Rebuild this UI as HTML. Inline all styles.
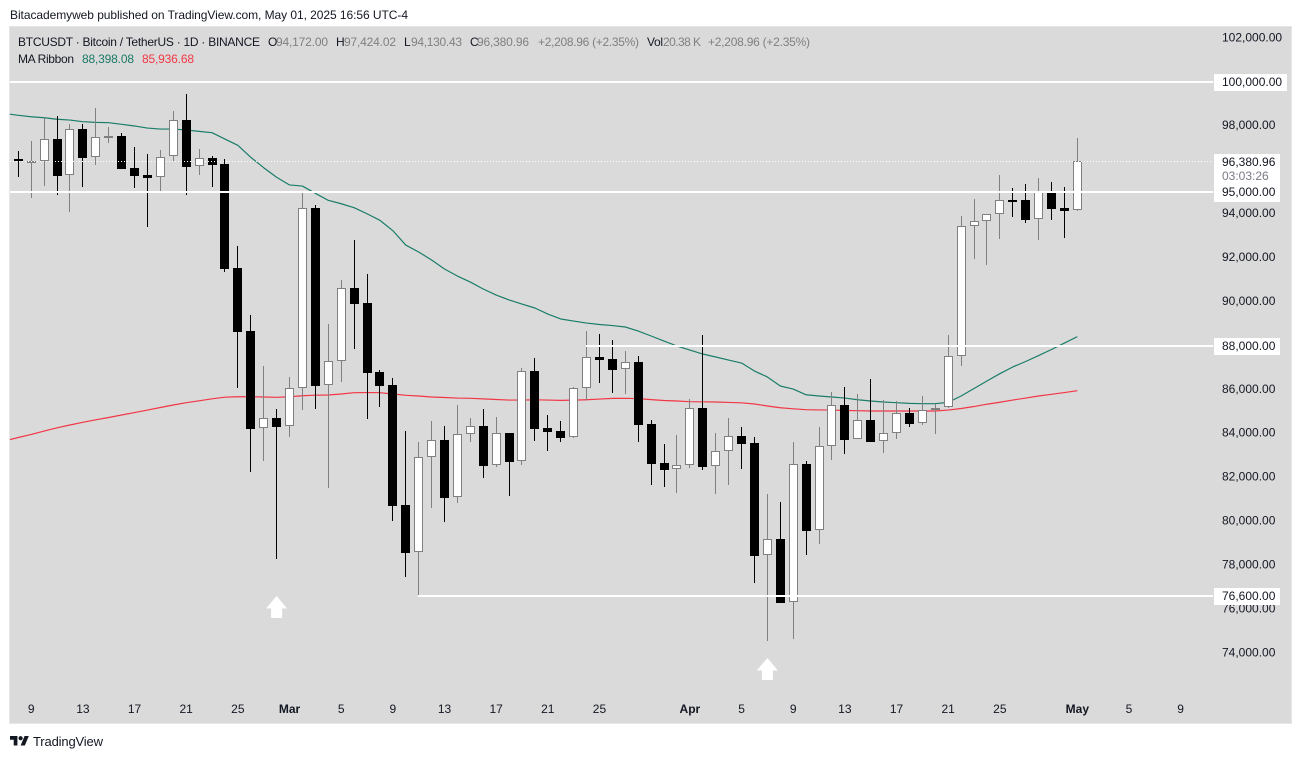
<!DOCTYPE html>
<html lang="en">
<head>
<meta charset="utf-8">
<title>BTCUSDT chart</title>
<style>
html,body{margin:0;padding:0;background:#fff;width:1301px;height:759px;overflow:hidden}
svg{display:block;font-family:"Liberation Sans",sans-serif;font-size:12px}
</style>
</head>
<body>
<svg id="chart" xmlns="http://www.w3.org/2000/svg" width="1301" height="759" viewBox="0 0 1301 759">
  <defs><clipPath id="plot-clip"><rect x="10" y="27" width="1203" height="696"/></clipPath></defs>
  <text x="10" y="19" fill="#131722" textLength="398">Bitacademyweb published on TradingView.com, May 01, 2025 16:56 UTC-4</text>
  <rect x="9.5" y="26.5" width="1282" height="697" fill="#dadada" stroke="#e6e6e6"/>
  <g id="ma-layer" clip-path="url(#plot-clip)"></g>
  <g id="candle-layer" clip-path="url(#plot-clip)"></g>
  <g id="line-layer"></g>
  <g id="ytick-layer"></g>
  <g id="xtick-layer"></g>
  <g id="tag-layer"></g>
  <g>
    <text x="18" y="46" fill="#131722" textLength="242">BTCUSDT · Bitcoin / TetherUS · 1D · BINANCE</text>
    <text x="268" y="46" fill="#131722">O</text>
    <text x="276" y="46" fill="#808080" textLength="52">94,172.00</text>
    <text x="336" y="46" fill="#131722">H</text>
    <text x="344" y="46" fill="#808080" textLength="52">97,424.02</text>
    <text x="404" y="46" fill="#131722">L</text>
    <text x="411" y="46" fill="#808080" textLength="51">94,130.43</text>
    <text x="470" y="46" fill="#131722">C</text>
    <text x="477" y="46" fill="#808080" textLength="52">96,380.96</text>
    <text x="538" y="46" fill="#808080" textLength="101">+2,208.96 (+2.35%)</text>
    <text x="647" y="46" fill="#131722" textLength="16">Vol</text>
    <text x="663" y="46" fill="#808080" textLength="38">20.38 K</text>
    <text x="708" y="46" fill="#808080" textLength="102">+2,208.96 (+2.35%)</text>
    <text x="18" y="63" fill="#131722" textLength="56">MA Ribbon</text>
    <text x="82" y="63" fill="#1a7a66" textLength="52">88,398.08</text>
    <text x="142" y="63" fill="#f23645" textLength="52">85,936.68</text>
  </g>
  <g>
    <path transform="translate(10,733.9) scale(0.53)" fill="#131722" d="M14 22H7V11H0V4h14v18zM28 22h-8l7.5-18h8L28 22z"/>
    <circle cx="20.6" cy="738.2" r="2.1" fill="#131722"/>
    <text x="33" y="746" fill="#131722" font-size="13" textLength="70">TradingView</text>
  </g>
</svg>
<script>
const opens = [96459,96390,96410,97390,95740,97850,96560,97470,97530,96070,95750,95650,96600,98260,96150,96530,96250,91520,88650,84220,84690,84310,86040,94250,86180,87270,90610,89930,86790,86190,80730,78580,82900,83690,81080,83950,84330,82540,84010,82720,86830,84240,84100,83810,86040,87455,87380,86910,87240,84420,82640,82360,82540,85150,82490,83175,83870,83550,78440,79180,76300,82600,79580,83400,85280,83720,84600,83630,83990,84920,84450,85040,85180,87500,93420,93645,93965,94600,94615,93735,94935,94250,94172];
const highs = [96845,97300,98330,98420,98060,98060,98800,97940,97650,97030,96710,96890,98670,99440,96940,96620,96480,92520,89380,87060,85100,86560,94920,94390,88970,90970,92790,91250,86880,86510,84100,83600,84550,84330,85280,84690,85100,84740,84010,86970,87420,84830,84550,86120,88650,88515,88240,87740,87510,84600,83510,83920,85560,88470,84010,84690,84280,83830,81245,80870,83600,82735,84280,85875,86100,85785,86470,85510,85465,85150,85690,85330,88470,93890,94660,93965,95750,95160,95340,95615,95435,95205,97424];
const lows = [95676,94720,95270,94860,94080,95220,96220,97220,96040,95175,93400,95025,96390,94860,95750,95220,91350,86070,82250,82750,78290,83840,85070,85100,81520,86340,87850,84660,85210,80020,77470,76630,80610,79970,80840,83610,81970,82475,81155,82570,83660,83200,83610,83800,85500,86300,85840,85800,83610,81655,81565,81290,82430,82340,81245,81655,82385,77195,74555,76270,74645,78470,78970,82790,83065,83720,83610,83110,83750,84295,84390,83980,85150,87060,91940,91670,92850,93840,93580,92810,93720,92900,94130];
const closes = [96390,96410,97370,95720,97830,96540,97470,97530,96040,95720,95630,96590,98240,96130,96510,96220,91470,88620,84200,84680,84300,86040,94240,86160,87270,90600,89890,86750,86160,80700,78560,82900,83680,81060,83950,84310,82520,83990,82700,86820,84205,84070,83795,86040,87455,87345,86890,87230,84390,82610,82340,82540,85130,82475,83175,83860,83520,78420,79170,76285,82585,79560,83400,85270,83700,84590,83610,83990,84905,84430,85040,85160,87500,93420,93645,93965,94600,94570,93720,94980,94205,94130,96381];
const maFast = [98550,98470,98405,98360,98290,98255,98180,98150,98135,98060,97985,97890,97845,97845,97800,97740,97680,97390,97105,96560,96085,95650,95300,95250,94920,94600,94445,94265,93990,93690,93220,92565,92250,91885,91475,91155,90880,90565,90290,90065,89880,89700,89425,89200,89105,89015,88950,88900,88835,88650,88425,88195,87970,87785,87605,87470,87330,87195,86830,86560,86150,86010,85750,85695,85650,85600,85525,85465,85420,85390,85360,85345,85345,85405,85695,86035,86375,86710,87015,87265,87535,87810,88105,88398];
const maSlow = [83655,83805,83945,84100,84245,84375,84495,84610,84715,84830,84940,85055,85170,85285,85390,85475,85565,85640,85660,85660,85650,85635,85660,85705,85730,85740,85785,85845,85850,85845,85785,85725,85695,85650,85625,85600,85590,85565,85535,85510,85510,85520,85510,85495,85505,85525,85555,85585,85590,85575,85530,85490,85465,85435,85430,85420,85400,85385,85330,85240,85160,85110,85070,85060,85055,85035,85025,85010,85010,85010,85010,85010,85010,85055,85125,85215,85320,85410,85510,85600,85695,85770,85850,85937];
const priceTicks = [102000,100000,98000,96000,94000,92000,90000,88000,86000,84000,82000,80000,78000,76000,74000];
const timeTickLabels = ['9','13','17','21','25','Mar','5','9','13','17','21','25','Apr','5','9','13','17','21','25','May','5','9'];
const timeTickBars = [1,5,9,13,17,21,25,29,33,37,41,45,52,56,60,64,68,72,76,82,86,90];
const levelPrices = [100000,95000,88000,76600];
const levelStartBars = [-2,-2,44,31];
const currentPrice = 96380.96;
const arrowBars = [20,58];
const arrowPrices = [76590,73770];
const tagPrices = [100000,88000,76600];

const SVGNS = 'http://www.w3.org/2000/svg';
function xScale(bar){ return 18.3 + 12.915 * bar; }
function yScale(price){ return 81.7 + (100000 - price) * 0.02197; }
function px(v){ return Math.floor(v) + 0.5; }
function make(tag, attrs, parent){
  const el = document.createElementNS(SVGNS, tag);
  for (const k in attrs) el.setAttribute(k, attrs[k]);
  parent.appendChild(el);
  return el;
}
function fmt(v){ return v.toLocaleString('en-US',{minimumFractionDigits:2,maximumFractionDigits:2}); }

const maLayer = document.getElementById('ma-layer');
function drawMa(values, color, name){
  const pts = values.map((v,i)=>xScale(i-1).toFixed(2)+','+yScale(v).toFixed(2)).join(' ');
  const line = make('polyline',{points:pts,fill:'none',stroke:color,'stroke-width':1.2,'stroke-linejoin':'round'},maLayer);
  
  
}
drawMa(maFast,'#1a7d69','ma-fast-line');
drawMa(maSlow,'#f23645','ma-slow-line');

const candleLayer = document.getElementById('candle-layer');
opens.forEach((o,i)=>{
  const c = closes[i], up = c >= o;
  const cx = px(xScale(i));
  const topY = Math.round(yScale(Math.max(o,c)));
  const botY = Math.round(yScale(Math.min(o,c)));
  const g = make('g',{},candleLayer);
  
  
  const wick = make('rect',{x:cx-0.5,y:Math.round(yScale(highs[i])),width:1,height:Math.max(1,Math.round(yScale(lows[i]))-Math.round(yScale(highs[i]))),fill:up?'#808080':'#000','shape-rendering':'crispEdges'},g);
  
  
  let body;
  if (up) {
    body = make('rect',{x:cx-4,y:topY+0.5,width:8,height:Math.max(1,botY-topY-1),fill:'#fff',stroke:'#808080','stroke-width':1,'shape-rendering':'crispEdges'},g);
  } else {
    body = make('rect',{x:cx-4.5,y:topY,width:9,height:Math.max(2,botY-topY),fill:'#000','shape-rendering':'crispEdges'},g);
  }
  
  
});

const lineLayer = document.getElementById('line-layer');
levelPrices.forEach((p,i)=>{
  const yc = Math.round(yScale(p) + 0.3);
  const xs = Math.max(10, Math.round(xScale(levelStartBars[i])) - 1);
  const r = make('rect',{x:xs,y:yc-1,width:1213-xs,height:2,fill:'#fff','shape-rendering':'crispEdges'},lineLayer);
  
  
});
const dotted = make('line',{x1:10,x2:1213,y1:px(yScale(currentPrice)),y2:px(yScale(currentPrice)),stroke:'#fff','stroke-width':1,'stroke-dasharray':'1 2'},lineLayer);



arrowBars.forEach((b,i)=>{
  const cx = xScale(b) + 0;
  const ty = yScale(arrowPrices[i]);
  const d = 'M'+cx+' '+ty+'l10.5 12.5h-5v9.5h-11v-9.5h-5z';
  const a = make('path',{d:d,fill:'#fff'},lineLayer);
  
  
});

const ytickLayer = document.getElementById('ytick-layer');
priceTicks.forEach(p=>{
  const t = make('text',{x:1222,y:yScale(p)+3.5,fill:'#131722'},ytickLayer);
  t.textContent = fmt(p);
  
  
});

const xtickLayer = document.getElementById('xtick-layer');
timeTickLabels.forEach((lab,i)=>{
  const bold = isNaN(parseInt(lab));
  const t = make('text',{x:xScale(timeTickBars[i]),y:713,fill:'#131722','text-anchor':'middle','font-weight':bold?'bold':'normal'},xtickLayer);
  t.textContent = lab;
  
  
});

const tagLayer = document.getElementById('tag-layer');
tagPrices.forEach(p=>{
  const yc = Math.round(yScale(p) + 0.3);
  const w = p >= 100000 ? 73 : 66;
  const box = make('rect',{x:1214,y:yc-8,width:w,height:17,fill:'#fff'},tagLayer);
  
  
  const t = make('text',{x:1222,y:yc+4,fill:'#131722'},tagLayer);
  t.textContent = fmt(p);
  
  
});
const curBox = make('rect',{x:1214,y:154,width:66,height:48,fill:'#fff'},tagLayer);


const curText = make('text',{x:1222,y:166,fill:'#131722'},tagLayer);
curText.textContent = fmt(currentPrice);


const timer = make('text',{x:1222,y:180,fill:'#787b86'},tagLayer);
timer.textContent = '03:03:26';


const t95 = make('text',{x:1222,y:196,fill:'#131722'},tagLayer);
t95.textContent = fmt(95000);


</script>
</body>
</html>
